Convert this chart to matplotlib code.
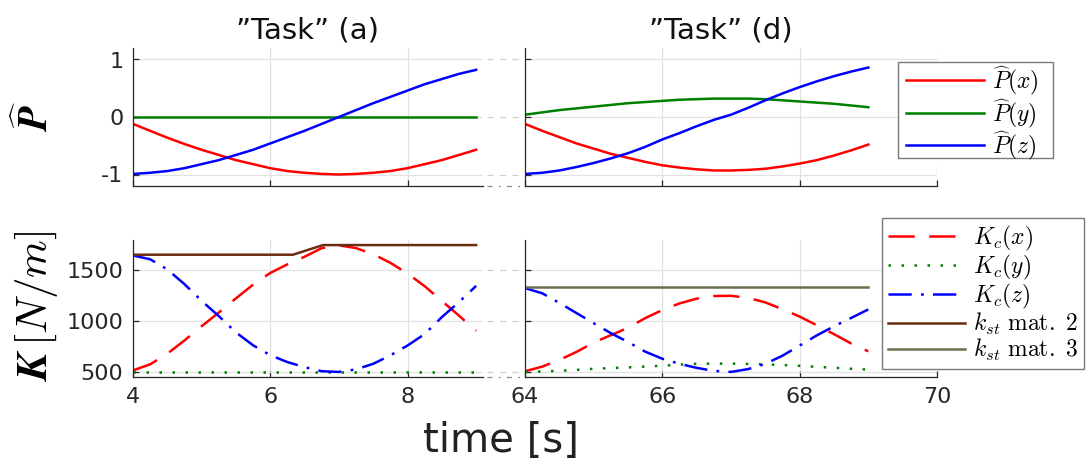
import matplotlib
matplotlib.use('Agg')
import matplotlib.pyplot as plt
from matplotlib.lines import Line2D
from matplotlib.patches import Rectangle
from matplotlib.transforms import blended_transform_factory

plt.rcParams['font.family'] = ['DejaVu Sans']
plt.rcParams['mathtext.fontset'] = 'cm'
plt.rcParams['axes.unicode_minus'] = False

# ---------------- data ----------------
t_a = [4.00, 4.25, 4.50, 4.75, 5.00, 5.25, 5.50, 5.75, 6.00, 6.25, 6.50,
       6.75, 7.00, 7.25, 7.50, 7.75, 8.00, 8.25, 8.50, 8.75, 9.00]
t_d = [64.00, 64.25, 64.50, 64.75, 65.00, 65.25, 65.50, 65.75, 66.00, 66.25, 66.50,
       66.75, 67.00, 67.25, 67.50, 67.75, 68.00, 68.25, 68.50, 68.75, 69.00]

# P-hat, task (a)
px_a = [-0.12, -0.24, -0.36, -0.47, -0.57, -0.66, -0.75, -0.82, -0.89, -0.94, -0.97,
        -0.99, -1.00, -0.99, -0.97, -0.94, -0.89, -0.82, -0.75, -0.66, -0.57]
py_a_t = [4.0, 9.0]
py_a = [0.0, 0.0]
pz_a = [-0.99, -0.97, -0.94, -0.89, -0.82, -0.75, -0.66, -0.57, -0.46, -0.35, -0.24,
        -0.12, 0.00, 0.12, 0.24, 0.35, 0.46, 0.57, 0.66, 0.75, 0.82]

# P-hat, task (d)
px_d = [-0.12, -0.24, -0.35, -0.46, -0.55, -0.64, -0.71, -0.78, -0.84, -0.88, -0.91,
        -0.93, -0.93, -0.92, -0.90, -0.86, -0.81, -0.75, -0.67, -0.58, -0.48]
py_d = [0.04, 0.08, 0.12, 0.15, 0.18, 0.21, 0.24, 0.26, 0.28, 0.30, 0.31,
        0.32, 0.32, 0.32, 0.31, 0.29, 0.27, 0.25, 0.23, 0.20, 0.17]
pz_d = [-0.99, -0.97, -0.93, -0.87, -0.80, -0.72, -0.63, -0.52, -0.39, -0.28, -0.16,
        -0.05, 0.04, 0.16, 0.29, 0.41, 0.52, 0.62, 0.71, 0.79, 0.86]

# K, task (a)
kx_a = [515, 575, 680, 810, 950, 1085, 1225, 1360, 1475, 1560, 1635,
        1720, 1748, 1720, 1660, 1575, 1470, 1345, 1200, 1055, 905]
ky_a_t = [4.0, 9.0]
ky_a = [500, 500]
kz_a = [1648, 1610, 1510, 1365, 1200, 1050, 890, 762, 665, 597, 547,
        507, 500, 525, 580, 663, 760, 873, 1040, 1188, 1348]
kst2_t = [4.0, 6.33, 6.77, 9.0]
kst2 = [1655, 1655, 1750, 1750]

# K, task (d)
kx_d = [507, 552, 618, 697, 790, 862, 935, 1030, 1110, 1175, 1222,
        1248, 1250, 1230, 1185, 1118, 1045, 960, 872, 780, 703]
ky_d = [500, 505, 511, 520, 531, 538, 545, 553, 561, 572, 580,
        582, 582, 579, 574, 568, 560, 550, 541, 531, 523]
kz_d = [1326, 1275, 1180, 1080, 980, 882, 795, 700, 630, 580, 540,
        510, 500, 528, 580, 660, 760, 860, 950, 1032, 1116]
kst3_t = [64.0, 69.0]
kst3 = [1336, 1336]

xt_a = [4, 6, 8]
xt_d = [64, 66, 68, 70]
yt_p = [-1, 0, 1]
yt_k = [500, 1000, 1500]

# ---------------- figure ----------------
W, H = 1092, 475
fig = plt.figure(figsize=(W / 100, H / 100), dpi=100)


def px_axes(x0, x1, y0, y1):
    return fig.add_axes([x0 / W, 1 - y1 / H, (x1 - x0) / W, (y1 - y0) / H])


ax_tl = px_axes(133, 483, 48, 186)
ax_tr = px_axes(525, 937, 48, 186)
ax_bl = px_axes(133, 483, 240, 377)
ax_br = px_axes(525, 937, 240, 377)

SP = '#262626'
GR = '#e2e2e2'
for ax in (ax_tl, ax_tr, ax_bl, ax_br):
    ax.spines['top'].set_visible(False)
    ax.spines['right'].set_visible(False)
    for s in ('left', 'bottom'):
        ax.spines[s].set_color(SP)
        ax.spines[s].set_linewidth(0.9)
    ax.grid(True, color=GR, lw=0.9)
    ax.set_axisbelow(True)
    ax.tick_params(direction='in', length=4, width=0.9, color=SP,
                   labelsize=16, labelcolor=SP, pad=7)

RED, GRN, BLU = '#ff0000', '#008000', '#0000ff'
BRN, OLV = '#6b2d10', '#6d6d4f'
LW = 1.8
DASH = (0, (10.5, 5.8))
DOT = (0, (1, 4.2))
DASHDOT = (0, (9.3, 3.7, 1.1, 3.7))

# top-left
ax_tl.plot(t_a, px_a, color=RED, lw=LW)
ax_tl.plot(py_a_t, py_a, color=GRN, lw=LW)
ax_tl.plot(t_a, pz_a, color=BLU, lw=LW)
ax_tl.set_xlim(4, 9.1)
ax_tl.set_ylim(-1.2, 1.2)
ax_tl.set_xticks(xt_a)
ax_tl.set_yticks(yt_p)
ax_tl.tick_params(labelbottom=False)

# top-right
h_px, = ax_tr.plot(t_d, px_d, color=RED, lw=LW)
h_py, = ax_tr.plot(t_d, py_d, color=GRN, lw=LW)
h_pz, = ax_tr.plot(t_d, pz_d, color=BLU, lw=LW)
ax_tr.set_xlim(64, 70)
ax_tr.set_ylim(-1.2, 1.2)
ax_tr.set_xticks(xt_d)
ax_tr.set_yticks(yt_p)
ax_tr.tick_params(labelbottom=False, labelleft=False)

# bottom-left
ax_bl.plot(t_a, kx_a, color=RED, lw=LW, ls=DASH)
ax_bl.plot(ky_a_t, ky_a, color=GRN, lw=LW, ls=DOT)
ax_bl.plot(t_a, kz_a, color=BLU, lw=LW, ls=DASHDOT)
h_k2, = ax_bl.plot(kst2_t, kst2, color=BRN, lw=LW)
ax_bl.set_xlim(4, 9.1)
ax_bl.set_ylim(450, 1800)
ax_bl.set_xticks(xt_a)
ax_bl.set_yticks(yt_k)

# bottom-right
h_kx, = ax_br.plot(t_d, kx_d, color=RED, lw=LW, ls=DASH)
h_ky, = ax_br.plot(t_d, ky_d, color=GRN, lw=LW, ls=DOT)
h_kz, = ax_br.plot(t_d, kz_d, color=BLU, lw=LW, ls=DASHDOT)
h_k3, = ax_br.plot(kst3_t, kst3, color=OLV, lw=LW)
ax_br.set_xlim(64, 70)
ax_br.set_ylim(450, 1800)
ax_br.set_xticks(xt_d)
ax_br.set_yticks(yt_k)
ax_br.tick_params(labelleft=False)

# axis-break markers
for ax_l, yvals, ybot in ((ax_tl, yt_p, -1.2), (ax_bl, yt_k, 450)):
    tr = blended_transform_factory(fig.transFigure, ax_l.transData)
    for y in yvals:
        fig.add_artist(Line2D([487 / W, 521 / W], [y, y], transform=tr,
                              color='#d0d0d0', lw=0.9, ls=(0, (5, 5))))
    fig.add_artist(Line2D([487 / W, 521 / W], [ybot, ybot], transform=tr,
                          color='#8a8a8a', lw=0.9, ls=(0, (4, 5, 1.5, 5))))

# titles / labels
ax_tl.set_title('\u201dTask\u201d (a)', fontsize=21, pad=7, color='#111111')
ax_tr.set_title('\u201dTask\u201d (d)', fontsize=21, pad=7, color='#111111', x=0.475)
fig.text(501 / W, 1 - 441 / H, 'time [s]', ha='center', va='center',
         fontsize=29, color='#222222')
fig.text(36 / W, 1 - 117 / H, r'$\widehat{\boldsymbol{P}}$', rotation=90,
         ha='center', va='center', fontsize=29)
fig.text(36 / W, 1 - 306 / H, r'$\boldsymbol{K}\,[N/m]$', rotation=90,
         ha='center', va='center', fontsize=31)

# legend 1: separate frame so horizontal and vertical padding can differ
fig.add_artist(Rectangle((898 / W, 1 - 158 / H), 155 / W, 96 / H,
                         transform=fig.transFigure, facecolor='white',
                         edgecolor='#7a7a7a', lw=1.0, zorder=4))
leg1 = fig.legend([h_px, h_py, h_pz],
                  [r'$\widehat{P}(x)$', r'$\widehat{P}(y)$', r'$\widehat{P}(z)$'],
                  loc='upper left', bbox_to_anchor=(906 / W, 1 - 64 / H),
                  bbox_transform=fig.transFigure, frameon=False,
                  borderaxespad=0, handlelength=3.3,
                  handletextpad=0.35, labelspacing=-0.02, borderpad=0.0,
                  fontsize=17)
leg1.set_zorder(5)

leg2 = fig.legend([h_kx, h_ky, h_kz, h_k2, h_k3],
                  [r'$K_c(x)$', r'$K_c(y)$', r'$K_c(z)$',
                   r'$k_{st}\ \mathrm{mat.\ 2}$', r'$k_{st}\ \mathrm{mat.\ 3}$'],
                  loc='upper left', bbox_to_anchor=(882 / W, 1 - 218 / H),
                  bbox_transform=fig.transFigure, fancybox=False, framealpha=1,
                  edgecolor='#7a7a7a', borderaxespad=0, handlelength=3.25,
                  handletextpad=0.35, labelspacing=0.0, borderpad=0.25, fontsize=17)
leg2.get_frame().set_linewidth(1.0)

fig.savefig('out.png', dpi=100)
